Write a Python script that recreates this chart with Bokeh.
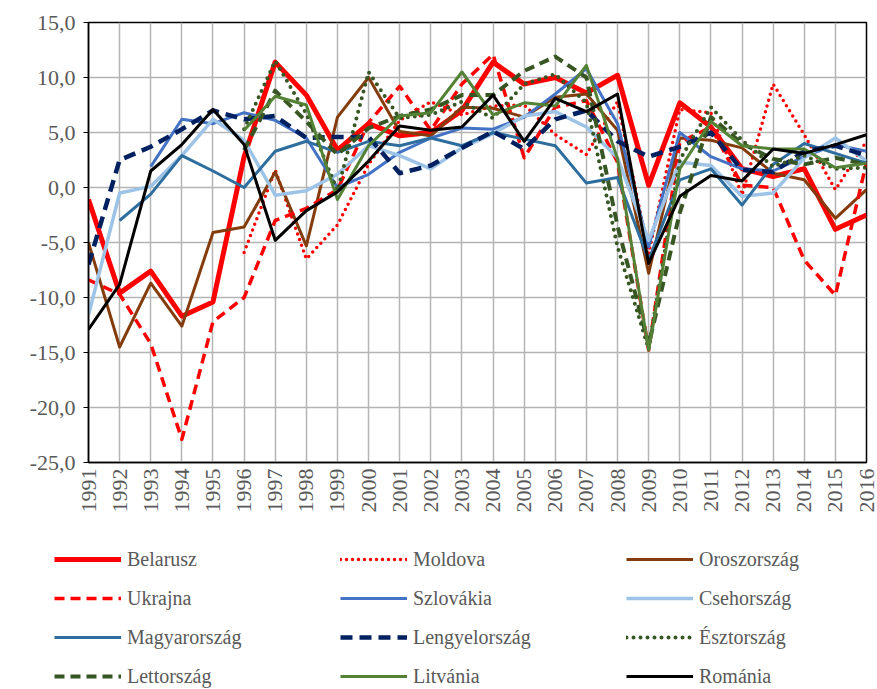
import math
import numpy as np
from bokeh.plotting import figure
from bokeh.layouts import column
from bokeh.models import Range1d, FixedTicker, CustomJSTickFormatter, Legend, LegendItem
from bokeh.embed import file_html
from bokeh.resources import INLINE

years = list(range(1991, 2017))
y_ticks = [-25, -20, -15, -10, -5, 0, 5, 10, 15]

N = None
belarus = [-1.1, -9.6, -7.6, -11.7, -10.4, 2.8, 11.4, 8.4, 3.4, 5.8, 4.7, 5.0, 7.0, 11.4, 9.4, 10.0, 8.6, 10.2, 0.2, 7.7, 5.5, 1.7, 1.0, 1.7, -3.8, -2.5]
moldova = [N, N, N, N, N, -5.9, 1.6, -6.5, -3.4, 2.1, 6.1, 7.8, 6.6, 7.4, 7.5, 4.8, 3.0, 7.8, -6.0, 7.1, 6.8, -0.7, 9.4, 4.8, -0.2, 4.2]
russia = [-5.0, -14.5, -8.7, -12.6, -4.1, -3.6, 1.4, -5.3, 6.4, 10.0, 5.1, 4.7, 7.3, 7.2, 6.4, 8.2, 8.5, 5.2, -7.8, 4.5, 4.3, 3.6, 1.3, 0.7, -2.8, -0.2]
ukraine = [-8.4, -9.7, -14.2, -22.9, -12.2, -10.0, -3.0, -1.9, -0.2, 5.9, 9.2, 5.2, 9.4, 12.1, 2.7, 7.3, 7.9, 2.3, -14.8, 4.1, 5.5, 0.2, 0.0, -6.6, -9.8, 2.3]
slovakia = [N, N, 1.9, 6.2, 5.8, 6.8, 6.1, 4.5, 0.0, 1.2, 3.2, 4.5, 5.4, 5.3, 6.4, 8.5, 10.8, 5.8, -5.4, 5.0, 2.8, 1.7, 1.5, 2.8, 3.9, 3.3]
czech = [-11.6, -0.5, 0.1, 2.9, 6.2, 4.3, -0.7, -0.3, 1.2, 3.8, 2.9, 1.7, 3.6, 4.9, 6.5, 6.9, 5.5, 2.7, -4.8, 2.3, 2.0, -0.8, -0.5, 2.7, 4.5, 2.4]
hungary = [N, -3.0, -0.6, 2.9, 1.5, 0.0, 3.3, 4.2, 3.2, 4.2, 3.8, 4.5, 3.8, 5.0, 4.4, 3.8, 0.4, 0.9, -6.6, 0.7, 1.7, -1.6, 2.1, 4.0, 3.1, 2.2]
poland = [-7.0, 2.5, 3.7, 5.3, 7.0, 6.2, 6.5, 4.5, 4.6, 4.6, 1.3, 2.0, 3.6, 5.1, 3.5, 6.2, 7.0, 4.2, 2.8, 3.7, 5.0, 1.6, 1.4, 3.3, 3.8, 2.9]
estonia = [N, N, N, N, N, 5.3, 11.5, 6.7, -0.3, 10.5, 6.3, 6.6, 7.8, 6.3, 9.4, 10.3, 7.7, -5.4, -14.7, 2.5, 7.3, 4.3, 1.9, 2.9, 1.7, 1.8]
latvia = [N, N, N, N, N, 3.4, 8.8, 6.0, 3.0, 5.4, 6.5, 7.1, 8.4, 8.4, 10.6, 11.9, 10.0, -3.5, -14.3, -2.3, 6.4, 4.0, 2.6, 2.1, 2.7, 2.1]
lithuania = [N, N, N, N, N, 5.2, 8.3, 7.5, -1.1, 3.8, 6.5, 6.8, 10.5, 6.6, 7.7, 7.4, 11.1, 2.6, -14.8, 1.7, 6.0, 3.8, 3.5, 3.5, 1.8, 2.2]
romania = [-12.9, -8.8, 1.5, 3.9, 7.1, 3.9, -4.8, -2.1, -0.4, 2.4, 5.6, 5.2, 5.5, 8.4, 4.2, 8.1, 6.9, 8.5, -6.9, -0.8, 1.1, 0.6, 3.5, 3.1, 3.9, 4.8]

labels = ["Belarusz", "Moldova", "Oroszország", "Ukrajna", "Szlovákia", "Csehország",
          "Magyarország", "Lengyelország", "Észtország", "Lettország", "Litvánia", "Románia"]
series = [belarus, moldova, russia, ukraine, slovakia, czech,
          hungary, poland, estonia, latvia, lithuania, romania]
styles = [
    dict(line_color="#FF0000", line_width=5),
    dict(line_color="#FF0000", line_width=3.5, line_dash="0 6", line_cap="round"),
    dict(line_color="#843C0C", line_width=3),
    dict(line_color="#FF0000", line_width=3.5, line_dash="10 6"),
    dict(line_color="#4472C4", line_width=3),
    dict(line_color="#9DC3E6", line_width=3.5),
    dict(line_color="#2E6E9E", line_width=3),
    dict(line_color="#002060", line_width=4.5, line_dash="12 7"),
    dict(line_color="#375623", line_width=4, line_dash="0 7", line_cap="round"),
    dict(line_color="#375623", line_width=4, line_dash="10 6"),
    dict(line_color="#548235", line_width=3),
    dict(line_color="#000000", line_width=3),
]

font = "Liberation Serif"

p = figure(width=877, height=525, output_backend="svg", toolbar_location=None,
           x_range=Range1d(1991, 2016), y_range=Range1d(-25, 15),
           min_border_left=88, min_border_right=11, min_border_top=22, min_border_bottom=63,
           outline_line_color="black", outline_line_width=1.5, frame_align=False)

p.xaxis.ticker = FixedTicker(ticks=years)
p.yaxis.ticker = FixedTicker(ticks=y_ticks)
p.xgrid.ticker = FixedTicker(ticks=years)
p.ygrid.ticker = FixedTicker(ticks=y_ticks)
p.yaxis.formatter = CustomJSTickFormatter(code="return tick.toFixed(1).replace('.', ',');")
p.xaxis.major_label_orientation = math.pi / 2
for ax in (p.xaxis, p.yaxis):
    ax.axis_line_color = "black"
    ax.axis_line_width = 1.5
    ax.minor_tick_line_color = None
    ax.major_label_text_font = font
    ax.major_label_text_color = "#595959"
p.xaxis.major_label_text_font_size = "22px"
p.yaxis.major_label_text_font_size = "22px"
p.xaxis.major_tick_out = 0
p.xaxis.major_tick_in = 0
p.xaxis.major_label_standoff = 6
p.yaxis.major_tick_out = 5
p.yaxis.major_tick_in = 0
p.yaxis.major_tick_line_color = "black"
p.yaxis.major_label_standoff = 8
for g in (p.xgrid, p.ygrid):
    g.grid_line_color = "#B4B4B4"
    g.grid_line_width = 1.5

for vals, st in zip(series, styles):
    yv = np.array([np.nan if v is None else v for v in vals], dtype=float)
    p.line(x=years, y=yv, line_join="round", **st)

# legend panel
q = figure(width=877, height=164, output_backend="svg", toolbar_location=None,
           x_range=Range1d(0, 1), y_range=Range1d(0, 1),
           x_axis_type=None, y_axis_type=None,
           min_border_left=0, min_border_right=0, min_border_top=0, min_border_bottom=0,
           outline_line_color=None, frame_align=False)
q.xgrid.visible = False
q.ygrid.visible = False
items = []
for lab, st in zip(labels, styles):
    r = q.line(x=[np.nan], y=[np.nan], **st)
    items.append(LegendItem(label=lab, renderers=[r]))

legend = Legend(items=items, location=(54, 0), orientation="horizontal", ncols=3,
                glyph_width=67, glyph_height=26, label_standoff=6, label_width=200,
                spacing=13, padding=0, margin=0, border_line_alpha=0,
                background_fill_alpha=0, label_text_font=font,
                label_text_font_size="20px", label_text_color="#595959")
q.add_layout(legend)

layout = column(p, q, spacing=0)
open("out.html", "w").write(file_html(layout, INLINE))
